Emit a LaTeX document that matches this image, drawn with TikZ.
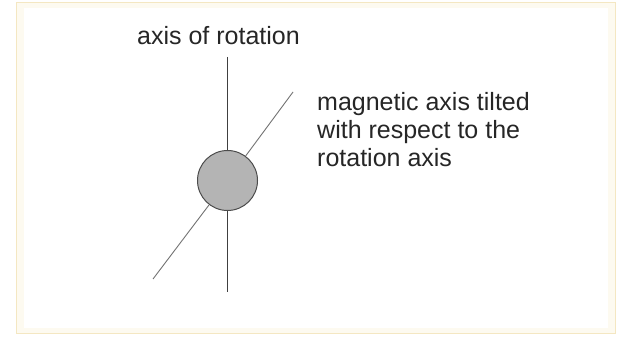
\documentclass[tikz,border=0pt]{standalone}
\usepackage{fontspec}
\setmainfont{Liberation Sans}
\usetikzlibrary{positioning}

\definecolor{framecol}{HTML}{F4E7C2}
\definecolor{creamcol}{HTML}{FDFAF0}
\definecolor{ballcol}{HTML}{B4B4B4}

\begin{document}
\begin{tikzpicture}[
    x=1pt, y=1pt,
    lbl/.style = {
        inner sep=0pt, font=\fontsize{25}{28}\selectfont,
        text=black!85
    },
    rotaxis/.style = {draw=black!75, line width=1.2pt},
    magaxis/.style = {draw=black!55, line width=0.9pt},
    ball/.style = {
        circle, draw=black!70, line width=1pt,
        fill=ballcol, minimum size=60pt, inner sep=0pt
    }
]

% Rahmen
\useasboundingbox (0,0) rectangle (618,337);
\fill[white] (0,0) rectangle (618,337);
\fill[creamcol] (16,3) rectangle (616,335);
\fill[white] (24,9) rectangle (608,329);
\draw[framecol, line width=1.5pt] (16.5,3.5) rectangle (615.5,334.5);

% Kugel und Achsen
\node[ball] (star) at (227.5,156.5) {};
\coordinate (rtop) at (227.5,280);
\coordinate (rbot) at (227.5,45);
\coordinate (mtop) at (293,245);
\coordinate (mbot) at (153,58);

\draw[rotaxis] (rtop) -- (star.north);
\draw[rotaxis] (star.south) -- (rbot);
\draw[magaxis] (mtop) -- (star);
\draw[magaxis] (star) -- (mbot);

% Beschriftungen
\node[lbl, anchor=base] (rotlbl) at (218.5,292) {axis of rotation};
\node[lbl, anchor=base west, align=left] (maglbl) at (317,170)
    {magnetic axis tilted\\
     with respect to the\\
     rotation axis};

\end{tikzpicture}
\end{document}
